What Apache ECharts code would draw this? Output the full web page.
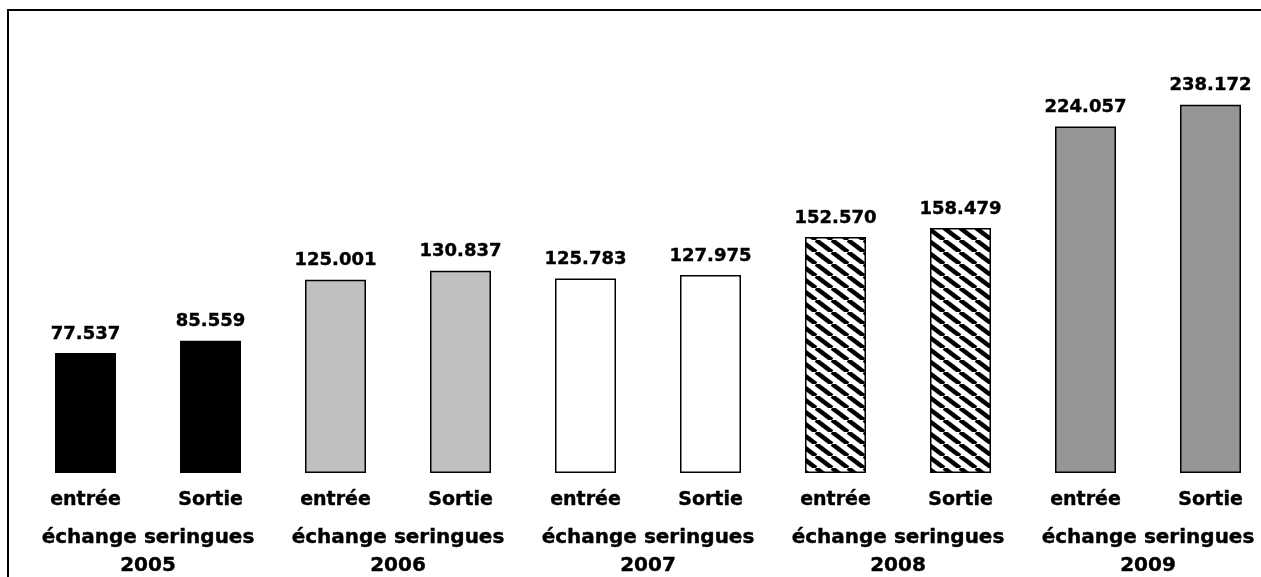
<!DOCTYPE html>
<html>
<head>
<meta charset="utf-8">
<script src="https://cdn.jsdelivr.net/npm/echarts@6/dist/echarts.min.js"></script>
<style>
  html, body { margin: 0; padding: 0; background: #fff; }
  #chart { width: 1261px; height: 577px; }
</style>
</head>
<body>
<div id="chart"></div>
<script>
// data (thousands, written with a point)
var kinds = ["entrée", "Sortie", "entrée", "Sortie", "entrée", "Sortie", "entrée", "Sortie", "entrée", "Sortie"];
var values = [77.537, 85.559, 125.001, 130.837, 125.783, 127.975, 152.570, 158.479, 224.057, 238.172];
var years = ["2005", "2006", "2007", "2008", "2009"];
var groupName = "échange seringues";

// hatch for 2008 (downward diagonal)
function hatch() {
  var w = 16, h = 12;
  var c = document.createElement("canvas");
  c.width = w; c.height = h;
  var ctx = c.getContext("2d");
  ctx.fillStyle = "#fff";
  ctx.fillRect(0, 0, w, h);
  ctx.strokeStyle = "#000";
  ctx.lineWidth = 4.5;
  [-w, 0, w].forEach(function (o) {
    ctx.beginPath();
    ctx.moveTo(o, 0);
    ctx.lineTo(o + w, h);
    ctx.stroke();
  });
  return { image: c, repeat: "repeat" };
}

var yearFill = ["#000000", "#c0c0c0", "#ffffff", hatch(), "#969696"];

var txt = {
  color: "#000",
  fontFamily: "DejaVu Sans",
  fontWeight: "bold",
  textBorderColor: "#000",
  textBorderWidth: 0.4
};

var chart = echarts.init(document.getElementById("chart"));
chart.setOption({
  animation: false,
  backgroundColor: "#fff",
  grid: {
    left: 23,
    right: -12,
    top: 9,
    bottom: 104,
    outerBoundsMode: "none",
    containLabel: false
  },
  xAxis: [
    {
      type: "category",
      data: kinds,
      axisLine: { show: false },
      axisTick: { show: false },
      axisLabel: Object.assign({ interval: 0, margin: 18, fontSize: 19 }, txt)
    },
    {
      type: "category",
      position: "bottom",
      data: years.map(function (y) { return groupName + "\n" + y; }),
      axisLine: { show: false },
      axisTick: { show: false },
      axisLabel: Object.assign({
        interval: 0,
        margin: 51,
        hideOverlap: false,
        fontSize: 20,
        lineHeight: 28
      }, txt)
    }
  ],
  yAxis: {
    type: "value",
    min: 0,
    max: 300,
    show: false,
    splitLine: { show: false }
  },
  series: [
    {
      type: "bar",
      xAxisIndex: 0,
      barWidth: 61,
      data: values.map(function (v, i) {
        return {
          value: v,
          itemStyle: {
            color: yearFill[Math.floor(i / 2)],
            borderColor: "#000",
            borderWidth: 1.5
          }
        };
      }),
      label: Object.assign({
        show: true,
        position: "top",
        distance: 10,
        fontSize: 18,
        formatter: function (p) { return p.value.toFixed(3); }
      }, txt)
    }
  ],
  graphic: [
    { type: "line", shape: { x1: 8, y1: 10, x2: 1261, y2: 10 }, style: { stroke: "#000", lineWidth: 2 } },
    { type: "line", shape: { x1: 8, y1: 9, x2: 8, y2: 577 }, style: { stroke: "#000", lineWidth: 2 } }
  ]
});
</script>
</body>
</html>
